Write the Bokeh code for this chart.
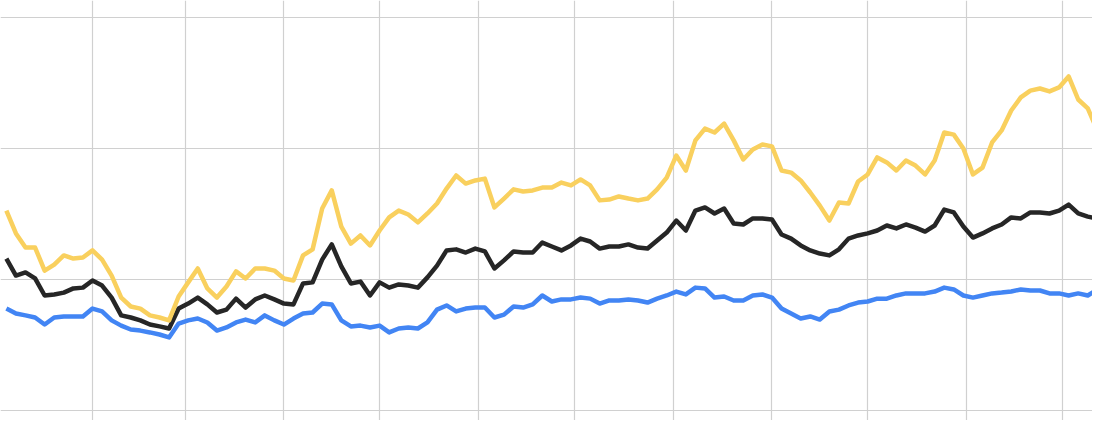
import pandas as pd
from bokeh.plotting import figure
from bokeh.models import Range1d, FixedTicker, MonthsTicker
from bokeh.embed import file_html
from bokeh.resources import INLINE

# sample dates: every 3 days from 5 Jan 2016
dates = pd.date_range("2016-01-05", periods=115, freq="3D")

yellow = [76.3, 67.6, 62.2, 62.2, 53.4, 55.7, 59.2, 58.0, 58.4, 61.1,
          57.6, 51.5, 43.1, 39.7, 38.9, 36.3, 35.5, 34.4, 43.5, 48.9,
          54.2, 46.6, 43.1, 47.3, 53.1, 50.4, 54.2, 54.2, 53.4, 50.4,
          49.6, 59.2, 61.5, 77.1, 84.0, 70.2, 63.7, 66.8, 63.0, 68.7,
          73.7, 76.3, 74.8, 71.8, 75.2, 79.0, 84.7, 89.7, 86.6, 87.8,
          88.5, 77.5, 80.9, 84.4, 83.6, 84.0, 85.1, 85.1, 87.0, 85.9,
          88.2, 85.9, 80.2, 80.5, 81.7, 80.9, 80.2, 80.9, 84.4, 88.9,
          97.3, 91.6, 103.1, 107.6, 106.1, 109.5, 103.1, 95.8, 99.6, 101.5,
          100.8, 91.6, 90.8, 87.8, 83.2, 78.2, 72.5, 79.4, 79.0, 87.4,
          90.1, 96.6, 94.7, 91.6, 95.4, 93.5, 90.1, 95.4, 106.1, 105.3,
          100.0, 90.1, 92.7, 102.3, 106.9, 114.5, 119.5, 122.1, 122.9, 121.8,
          123.3, 127.5, 118.7, 115.3, 106.9]

black = [58.0, 51.5, 52.7, 50.4, 43.9, 44.3, 45.0, 46.6, 46.9, 49.6,
         47.7, 43.1, 36.3, 35.5, 34.4, 32.8, 32.1, 31.3, 38.9, 40.8,
         43.1, 40.5, 37.4, 38.5, 42.7, 39.3, 42.4, 43.9, 42.4, 40.8,
         40.5, 48.5, 48.9, 57.6, 63.4, 55.0, 48.5, 49.2, 43.9, 48.9,
         46.9, 48.1, 47.7, 46.9, 50.8, 55.3, 61.1, 61.5, 60.3, 61.8,
         60.7, 54.2, 57.3, 60.7, 60.3, 60.3, 64.1, 62.6, 61.1, 63.0,
         65.6, 64.5, 61.8, 62.6, 62.6, 63.4, 62.2, 61.8, 64.9, 67.9,
         72.5, 68.7, 76.3, 77.5, 75.2, 77.1, 71.4, 71.0, 73.3, 73.3,
         72.9, 67.2, 65.6, 63.0, 61.1, 59.9, 59.2, 61.5, 65.6, 66.8,
         67.6, 68.7, 70.6, 69.5, 71.0, 69.8, 68.3, 70.6, 76.7, 75.6,
         70.2, 66.0, 67.6, 69.5, 71.0, 73.7, 73.3, 75.6, 75.6, 75.2,
         76.3, 78.6, 75.2, 74.0, 73.3]

blue = [38.9, 37.0, 36.3, 35.5, 32.8, 35.5, 35.9, 35.9, 35.9, 38.9,
        37.8, 34.4, 32.4, 30.9, 30.5, 29.8, 29.0, 27.9, 33.2, 34.4,
        35.1, 33.6, 30.5, 31.7, 33.6, 34.7, 33.6, 36.3, 34.4, 32.8,
        35.1, 37.0, 37.4, 40.8, 40.5, 34.4, 32.1, 32.4, 31.7, 32.4,
        29.8, 31.3, 31.7, 31.3, 33.6, 38.5, 40.1, 37.8, 38.9, 39.3,
        39.3, 35.5, 36.6, 39.7, 39.3, 40.5, 43.9, 41.6, 42.4, 42.4,
        43.1, 42.7, 40.8, 42.0, 42.0, 42.4, 42.0, 41.2, 42.7, 43.9,
        45.4, 44.3, 46.9, 46.6, 43.1, 43.5, 42.0, 42.0, 43.9, 44.3,
        43.1, 38.9, 37.0, 35.1, 35.9, 34.7, 37.8, 38.5, 40.1, 41.2,
        41.6, 42.7, 42.7, 43.9, 44.7, 44.7, 44.7, 45.4, 46.9, 46.2,
        43.9, 43.1, 43.9, 44.7, 45.0, 45.4, 46.2, 45.8, 45.8, 44.7,
        44.7, 43.9, 44.7, 43.9, 46.2]

y_ticks = [0, 50, 100, 150]

W, H = 1092, 420
px_per_day = 3.19
px_per_unit = 2.62
x_start = pd.Timestamp("2016-02-01") - pd.Timedelta(days=92 / px_per_day)
x_end = x_start + pd.Timedelta(days=W / px_per_day)
y_top = 150 + 17 / px_per_unit
y_bottom = y_top - H / px_per_unit

p = figure(width=W, height=H, output_backend="svg", toolbar_location=None,
           x_axis_type="datetime",
           x_range=Range1d(x_start, x_end), y_range=Range1d(y_bottom, y_top),
           min_border=0)
p.axis.visible = False
p.outline_line_color = None
p.background_fill_color = "white"
p.border_fill_color = "white"
p.xgrid.ticker = MonthsTicker(months=list(range(1, 13)))
p.ygrid.ticker = FixedTicker(ticks=y_ticks)
p.grid.grid_line_color = "#d0d0d0"
p.grid.grid_line_width = 1.2

p.line(dates, blue, line_color="#4285F4", line_width=4.5, line_join="round")
p.line(dates, black, line_color="#262626", line_width=4.5, line_join="round")
p.line(dates, yellow, line_color="#F9D05E", line_width=4.5, line_join="round")

open("out.html", "w").write(file_html(p, INLINE))
